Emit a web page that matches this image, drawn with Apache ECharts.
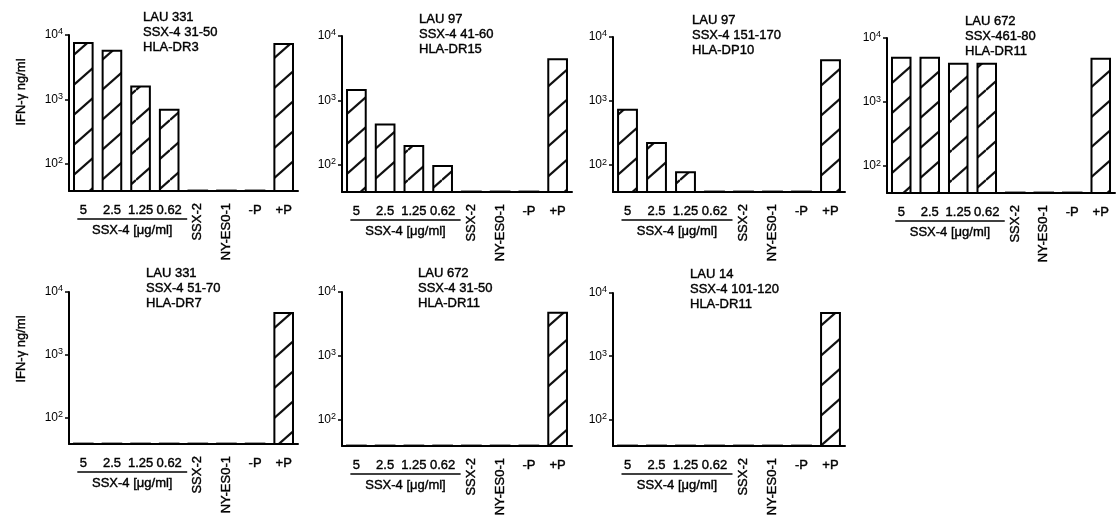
<!DOCTYPE html>
<html>
<head>
<meta charset="utf-8">
<script src="https://cdn.jsdelivr.net/npm/echarts@6/dist/echarts.min.js"></script>
<style>
html, body { margin: 0; background: #fff; }
#chart { width: 1117px; height: 521px; }
</style>
</head>
<body>
<div id="chart"></div>
<script>
var myChart = echarts.init(document.getElementById('chart'));

// categories along every x axis
var categories = ['5', '2.5', '1.25', '0.62', 'SSX-2', 'NY-ES0-1', '-P', '+P'];
var rotatedCats = ['SSX-2', 'NY-ES0-1'];
var doseCats = ['5', '2.5', '1.25', '0.62'];

// panel headings
var panelTitles = [
    ['LAU 331', 'SSX-4 31-50', 'HLA-DR3'],
    ['LAU 97', 'SSX-4 41-60', 'HLA-DR15'],
    ['LAU 97', 'SSX-4 151-170', 'HLA-DP10'],
    ['LAU 672', 'SSX-461-80', 'HLA-DR11'],
    ['LAU 331', 'SSX-4 51-70', 'HLA-DR7'],
    ['LAU 672', 'SSX-4 31-50', 'HLA-DR11'],
    ['LAU 14', 'SSX-4 101-120', 'HLA-DR11']
];

// IFN-gamma (ng/ml); ~40 = not detected
var lau331_31 = [7800, 5900, 1650, 720, 40, 40, 40, 7500];
var lau97_41 = [1500, 440, 204, 100, 40, 40, 40, 4500];
var lau97_151 = [760, 230, 80, 40, 40, 40, 40, 4500];
var lau672_61 = [5100, 5100, 4100, 4100, 40, 40, 40, 4900];
var lau331_51 = [40, 40, 40, 40, 40, 40, 40, 4800];
var lau672_31 = [40, 40, 40, 40, 40, 40, 40, 4900];
var lau14_101 = [40, 40, 40, 40, 40, 40, 40, 5000];
var panelValues = [lau331_31, lau97_41, lau97_151, lau672_61, lau331_51, lau672_31, lau14_101];

// log10 tick positions
var yTickExp = [2, 3, 4];
var yMinExp = 1.58;
var yMaxExp = 4;

var yTitle = 'IFN-\u03b3 ng/ml';
var doseLabel = 'SSX-4 [\u03bcg/ml]';

var FONT = '"Liberation Sans", Arial, sans-serif';
// a thin outline makes the text as heavy as the scanned original
var INK = {textBorderColor: '#000', textBorderWidth: 0.4};

// layout of the panels (px)
var boxes = [
    {left: 69, top: 35, width: 229, height: 156},
    {left: 342, top: 36, width: 230, height: 156},
    {left: 613, top: 37, width: 232, height: 155},
    {left: 887, top: 38, width: 228, height: 155},
    {left: 69, top: 292, width: 229, height: 152},
    {left: 342, top: 292, width: 230, height: 154},
    {left: 613, top: 293, width: 232, height: 153}
];
var titlePos = [
    [143, 10], [419, 12], [692, 13], [965, 14],
    [146, 266], [418, 266], [690, 267]
];

function hatchCanvas() {
    var w = 34, h = 30;
    var c = document.createElement('canvas');
    c.width = w;
    c.height = h;
    var ctx = c.getContext('2d');
    ctx.fillStyle = '#fff';
    ctx.fillRect(0, 0, w, h);
    ctx.strokeStyle = '#111';
    ctx.lineWidth = 2.2;
    [-h, 0, h].forEach(function (dy) {
        ctx.beginPath();
        ctx.moveTo(0, h + dy);
        ctx.lineTo(w, dy);
        ctx.stroke();
    });
    return c;
}
var hatch = {image: hatchCanvas(), repeat: 'repeat'};

var grids = [], xAxes = [], yAxes = [], series = [], titles = [];

boxes.forEach(function (b, i) {
    // main grid + an overlay grid carrying the rotated labels
    grids.push({left: b.left, top: b.top, width: b.width, height: b.height});
    grids.push({left: b.left, top: b.top, width: b.width, height: b.height});

    xAxes.push({
        type: 'category',
        gridIndex: 2 * i,
        data: categories,
        axisLine: {lineStyle: {color: '#000', width: 2}},
        axisTick: {alignWithLabel: true, length: 6, lineStyle: {color: '#000', width: 1.5}},
        axisLabel: echarts.util.extend({
            interval: 0,
            margin: 13,
            color: '#000',
            fontSize: 13,
            fontFamily: FONT,
            formatter: function (v) {
                return rotatedCats.indexOf(v) >= 0 ? '' : v;
            }
        }, INK)
    });
    xAxes.push({
        type: 'category',
        gridIndex: 2 * i + 1,
        data: categories,
        axisLine: {show: false},
        axisTick: {show: false},
        axisLabel: echarts.util.extend({
            interval: 0,
            rotate: 90,
            margin: 12,
            color: '#000',
            fontSize: 13,
            fontFamily: FONT,
            formatter: function (v) {
                return rotatedCats.indexOf(v) >= 0 ? v : '';
            }
        }, INK)
    });

    yAxes.push({
        type: 'value',
        gridIndex: 2 * i,
        min: yMinExp,
        max: yMaxExp,
        splitLine: {show: false},
        axisLine: {show: true, lineStyle: {color: '#000', width: 2}},
        axisTick: {show: true, customValues: yTickExp, length: 4, lineStyle: {color: '#000', width: 1.5}},
        axisLabel: {
            customValues: yTickExp,
            margin: 6,
            color: '#000',
            fontSize: 12,
            fontFamily: FONT,
            formatter: function (v) {
                return '10{s|' + v + '}';
            },
            rich: {
                s: {fontSize: 9, fontFamily: FONT, color: '#000', verticalAlign: 'top', padding: [0, 0, 6, 0]}
            }
        }
    });
    yAxes.push({
        type: 'value',
        gridIndex: 2 * i + 1,
        min: yMinExp,
        max: yMaxExp,
        show: false
    });

    series.push({
        type: 'bar',
        xAxisIndex: 2 * i,
        yAxisIndex: 2 * i,
        barWidth: '72%',
        data: panelValues[i].map(function (v) {
            return Math.log10(v);
        }),
        itemStyle: {color: hatch, borderColor: '#000', borderWidth: 2}
    });

    titles.push({
        text: panelTitles[i].join('\n'),
        left: titlePos[i][0],
        top: titlePos[i][1],
        padding: 0,
        textStyle: echarts.util.extend({
            fontSize: 13,
            lineHeight: 15,
            fontWeight: 'normal',
            color: '#000',
            fontFamily: FONT
        }, INK)
    });
});

myChart.setOption({
    animation: false,
    backgroundColor: '#fff',
    title: titles,
    grid: grids,
    xAxis: xAxes,
    yAxis: yAxes,
    series: series
});

// dose bracket under the first four categories, and the y titles
var graphics = [];
boxes.forEach(function (b, i) {
    var x1 = myChart.convertToPixel({xAxisIndex: 2 * i}, doseCats[0]) - 6;
    var x2 = myChart.convertToPixel({xAxisIndex: 2 * i}, doseCats[doseCats.length - 1]) + 18;
    var yBase = myChart.convertToPixel({yAxisIndex: 2 * i}, yMinExp);
    graphics.push({
        type: 'line',
        shape: {x1: x1, y1: yBase + 28, x2: x2, y2: yBase + 28},
        style: {stroke: '#000', lineWidth: 1.5}
    });
    graphics.push({
        type: 'text',
        x: (x1 + x2) / 2,
        y: yBase + 39,
        style: {
            text: doseLabel,
            align: 'center',
            verticalAlign: 'middle',
            fontSize: 13,
            fontFamily: FONT,
            fill: '#000',
            stroke: '#000',
            lineWidth: 0.4
        }
    });
});
[0, 4].forEach(function (i) {
    var yTop = myChart.convertToPixel({yAxisIndex: 2 * i}, yMaxExp);
    graphics.push({
        type: 'text',
        x: 21,
        y: yTop + 57,
        rotation: Math.PI / 2,
        style: {
            text: yTitle,
            align: 'center',
            verticalAlign: 'middle',
            fontSize: 13,
            fontFamily: FONT,
            fill: '#000',
            stroke: '#000',
            lineWidth: 0.4
        }
    });
});
myChart.setOption({graphic: graphics});
</script>
</body>
</html>
